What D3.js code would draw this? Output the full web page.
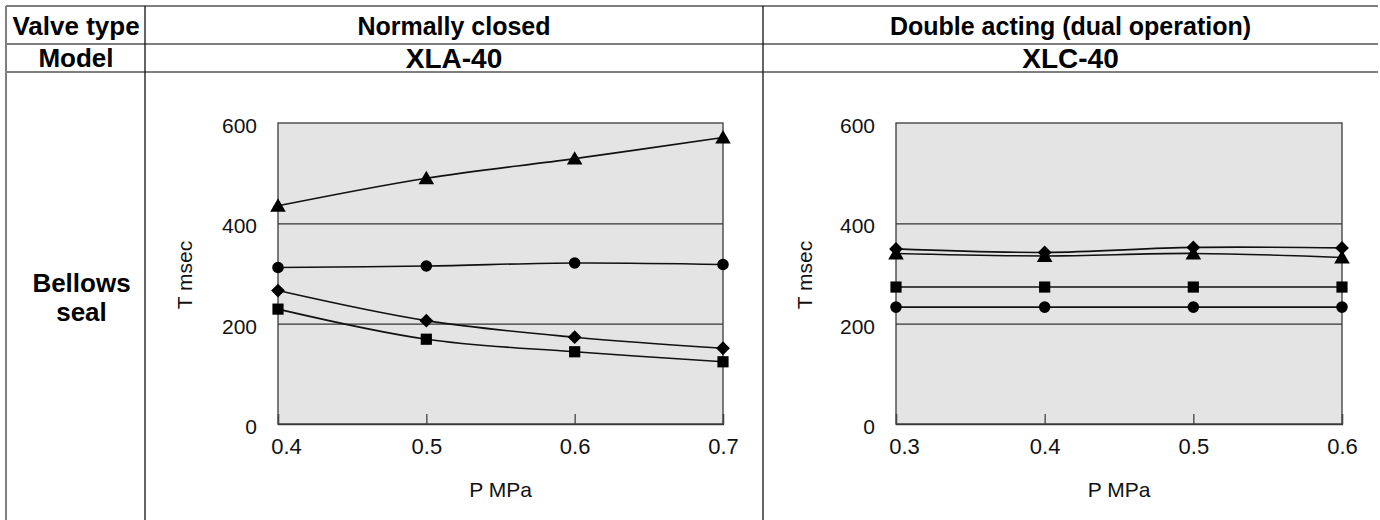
<!DOCTYPE html>
<html>
<head>
<meta charset="utf-8">
<script src="https://cdn.jsdelivr.net/npm/d3@7"></script>
<style>
  html, body { margin: 0; padding: 0; background: #fff; }
  svg { display: block; font-family: "Liberation Sans", Arial, Helvetica, sans-serif; }
</style>
</head>
<body>
<svg id="chart" width="1380" height="520"></svg>
<script>
// ---------- DATA ----------
const rowHeaders = ["Valve type", "Model"];
const valveTypes = ["Normally closed", "Double acting (dual operation)"];
const models = ["XLA-40", "XLC-40"];
const sealType = ["Bellows", "seal"];
const yTicks = [0, 200, 400, 600];
const yGrid = [200, 400];
const yLabel = "T msec";
const xLabel = "P MPa";

// XLA-40 (normally closed)
const xlaP = [0.4, 0.5, 0.6, 0.7];
const xlaTriangle = [435, 490, 529, 571];
const xlaCircle   = [312, 315, 321, 318];
const xlaDiamond  = [266, 206, 173, 151];
const xlaSquare   = [229, 169, 144, 124];

// XLC-40 (double acting)
const xlcP = [0.3, 0.4, 0.5, 0.6];
const xlcDiamond  = [349, 342, 352, 351];
const xlcTriangle = [340, 335, 340, 332];
const xlcSquare   = [273, 273, 273, 273];
const xlcCircle   = [233, 233, 233, 233];

// ---------- DRAW ----------
const svg = d3.select("#chart");
const FONT = '"Liberation Sans", Arial, Helvetica, sans-serif';

// table frame
const tbl = svg.append("g");
const leftX = 6, col1 = 145, col2 = 763, rightX = 1378;
const rowY = [6, 44, 72];
tbl.selectAll("line.h").data(rowY).join("line")
  .attr("x1", leftX).attr("x2", rightX)
  .attr("y1", d => d).attr("y2", d => d)
  .attr("stroke", "#7f7f7f").attr("stroke-width", 2);
tbl.append("line").attr("x1", leftX).attr("x2", leftX).attr("y1", rowY[0]).attr("y2", 520)
  .attr("stroke", "#7f7f7f").attr("stroke-width", 2);
[col1, col2].forEach(x => {
  tbl.append("line").attr("x1", x).attr("x2", x).attr("y1", rowY[0]).attr("y2", 520)
    .attr("stroke", "#111").attr("stroke-width", 1.3);
});

// header texts
tbl.append("text").attr("x", (leftX + col1) / 2 + 0.5).attr("y", 35)
  .attr("text-anchor", "middle").attr("font-weight", "bold").attr("font-size", 26)
  .text(rowHeaders[0]);
tbl.append("text").attr("x", (leftX + col1) / 2 + 0.5).attr("y", 67)
  .attr("text-anchor", "middle").attr("font-weight", "bold").attr("font-size", 26)
  .text(rowHeaders[1]);
tbl.selectAll("text.vt").data(valveTypes).join("text").attr("class", "vt")
  .attr("x", (d, i) => i === 0 ? (col1 + col2) / 2 : (col2 + rightX) / 2)
  .attr("y", 35).attr("text-anchor", "middle").attr("font-weight", "bold").attr("font-size", 25)
  .text(d => d);
tbl.selectAll("text.md").data(models).join("text").attr("class", "md")
  .attr("x", (d, i) => i === 0 ? (col1 + col2) / 2 : (col2 + rightX) / 2)
  .attr("y", 68).attr("text-anchor", "middle").attr("font-weight", "bold").attr("font-size", 28)
  .text(d => d);
tbl.selectAll("text.seal").data(sealType).join("text").attr("class", "seal")
  .attr("x", (leftX + col1) / 2 + 6).attr("y", (d, i) => 292 + i * 29)
  .attr("text-anchor", "middle").attr("font-weight", "bold").attr("font-size", 26)
  .text(d => d);

// marker shapes
const symbols = {
  triangle: d3.symbol().type(d3.symbolTriangle).size(105),
  circle: d3.symbol().type(d3.symbolCircle).size(105),
  diamond: d3.symbol().type(d3.symbolSquare).size(95),
  square: d3.symbol().type(d3.symbolSquare).size(125)
};

function drawChart(opts) {
  const { left, right, top, bottom, xs, series, labelX } = opts;
  const x = d3.scaleLinear().domain([xs[0], xs[xs.length - 1]]).range([left, right]);
  const y = d3.scaleLinear().domain([0, 600]).range([bottom, top]);
  const g = svg.append("g");

  g.append("rect").attr("x", left).attr("y", top)
    .attr("width", right - left).attr("height", bottom - top)
    .attr("fill", "#e4e4e4").attr("stroke", "#3a3a3a").attr("stroke-width", 1.3);

  // gridlines
  g.append("g").attr("transform", `translate(${left},0)`)
    .call(d3.axisLeft(y).tickValues(yGrid).tickSize(-(right - left)).tickFormat(""))
    .call(s => s.select(".domain").remove())
    .call(s => s.selectAll("line").attr("stroke", "#333").attr("stroke-width", 1.3));

  // y axis labels
  g.append("g").attr("transform", `translate(${left},0)`)
    .call(d3.axisLeft(y).tickValues(yTicks).tickSize(0).tickPadding(21))
    .call(s => s.select(".domain").remove())
    .call(s => s.selectAll("text").attr("font-size", 21).attr("font-family", FONT)
      .attr("fill", "#111").attr("dy", "0.45em"));

  // x axis: inner ticks + labels
  g.append("g").attr("transform", `translate(0,${bottom})`)
    .call(d3.axisBottom(x).tickValues(xs).tickSize(-10).tickPadding(14).tickFormat(d3.format(".1f")))
    .call(s => s.select(".domain").attr("stroke", "#3a3a3a").attr("stroke-width", 1.3))
    .call(s => s.selectAll("line").attr("stroke", "#444").attr("stroke-width", 1.3))
    .call(s => s.selectAll("text").attr("font-size", 22).attr("font-family", FONT).attr("fill", "#111")
      .attr("dx", (d, i) => i === 0 ? 8 : 0));

  // axis titles
  g.append("text").attr("x", (left + right) / 2).attr("y", 497)
    .attr("text-anchor", "middle").attr("font-size", 21).attr("fill", "#111").text(xLabel);
  g.append("text").attr("transform", `translate(${labelX},275) rotate(-90)`)
    .attr("text-anchor", "middle").attr("font-size", 21).attr("fill", "#111").text(yLabel);

  const line = d3.line().x(d => x(d[0])).y(d => y(d[1])).curve(d3.curveCatmullRom.alpha(0.5));
  series.forEach(s => {
    const pts = xs.map((p, i) => [p, s.values[i]]);
    g.append("path").attr("d", line(pts)).attr("fill", "none")
      .attr("stroke", "#111").attr("stroke-width", 1.6);
    g.selectAll(null).data(pts).join("path")
      .attr("transform", d => `translate(${x(d[0])},${y(d[1]) + (s.shape === "triangle" ? 1.5 : 0)})` +
        (s.shape === "diamond" ? " rotate(45)" : ""))
      .attr("d", symbols[s.shape]).attr("fill", "#000");
  });
}

drawChart({
  left: 278, right: 723, top: 123, bottom: 424, xs: xlaP, labelX: 192,
  series: [
    { shape: "triangle", values: xlaTriangle },
    { shape: "circle", values: xlaCircle },
    { shape: "diamond", values: xlaDiamond },
    { shape: "square", values: xlaSquare }
  ]
});
drawChart({
  left: 896, right: 1342, top: 123, bottom: 424, xs: xlcP, labelX: 812,
  series: [
    { shape: "diamond", values: xlcDiamond },
    { shape: "triangle", values: xlcTriangle },
    { shape: "square", values: xlcSquare },
    { shape: "circle", values: xlcCircle }
  ]
});
</script>
</body>
</html>
